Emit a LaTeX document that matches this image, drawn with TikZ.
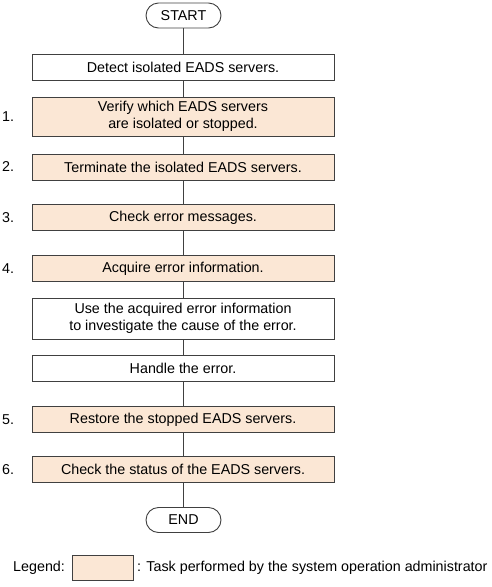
\documentclass[tikz,border=0pt]{standalone}
\usepackage{fontspec}
\setmainfont{Liberation Sans}
\definecolor{peach}{RGB}{251,231,213}
\definecolor{edge}{RGB}{64,64,64}
\begin{document}
\begin{tikzpicture}[x=1pt,y=-1pt,
  every node/.style={font=\fontsize{14.3}{16.5}\selectfont, text=black},
  plain/.style={draw=edge, line width=0.9pt, minimum width=302pt, minimum height=26pt, inner sep=0pt, align=center, fill=white},
  admin/.style={plain, fill=peach},
  term/.style={draw=edge, line width=0.9pt, rounded corners=12.5pt, minimum width=75pt, minimum height=25pt, inner sep=0pt},
  num/.style={anchor=west, inner sep=0pt},
  conn/.style={draw=edge, line width=0.9pt}]
\useasboundingbox (0,0) rectangle (491,587);
\node[term] (start) at (183.5,15.5) {START};
\node[plain] (detect) at (183,67) {Detect isolated EADS servers.};
\node[admin, minimum height=39pt] (s1) at (183,116.5) {Verify which EADS servers\\are isolated or stopped.};
\node[admin] (s2) at (183,167) {Terminate the isolated EADS servers.};
\node[admin] (s3) at (183,217.5) {Check error messages.};
\node[admin] (s4) at (183,268.5) {Acquire error information.};
\node[plain, minimum height=41pt] (use) at (183,318.5) {Use the acquired error information\\to investigate the cause of the error.};
\node[plain] (handle) at (183,368.5) {Handle the error.};
\node[admin] (s5) at (183,419.5) {Restore the stopped EADS servers.};
\node[admin] (s6) at (183,469.5) {Check the status of the EADS servers.};
\node[term] (end) at (183.5,520) {END};
\node[num] (n1) at (2,117) {1.};
\node[num] (n2) at (2,167) {2.};
\node[num] (n3) at (2,217.5) {3.};
\node[num] (n4) at (2,268.5) {4.};
\node[num] (n5) at (2,419.5) {5.};
\node[num] (n6) at (2,469.5) {6.};
\foreach \a/\b in {start/detect,detect/s1,s1/s2,s2/s3,s3/s4,s4/use,use/handle,handle/s5,s5/s6,s6/end}
  \draw[conn] (\a.south -| start) -- (\b.north -| start);
\node[num] (leg) at (13,568) {Legend:};
\node[draw=edge, line width=0.9pt, fill=peach, minimum width=61pt, minimum height=25pt, inner sep=0pt] (legbox) at (102.5,568) {};
\node[num] (legtxt) at (137,568) {: Task performed by the system operation administrator};
\end{tikzpicture}
\end{document}
